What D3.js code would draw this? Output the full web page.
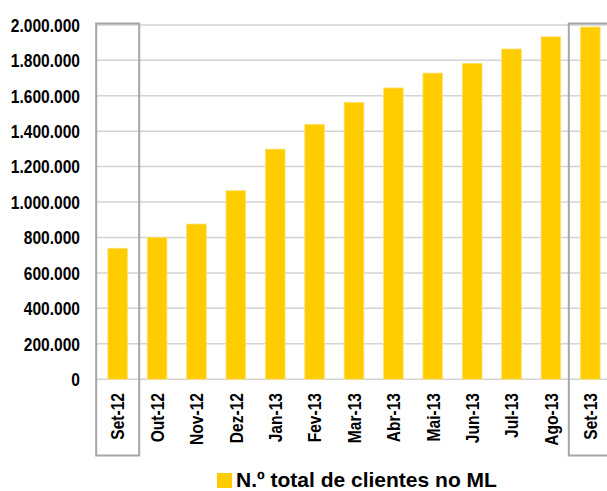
<!DOCTYPE html>
<html>
<head>
<meta charset="utf-8">
<script src="https://cdn.jsdelivr.net/npm/d3@7"></script>
<style>
  body { margin: 0; background: #fff; }
  svg { display: block; font-family: "Liberation Sans", Arial, sans-serif; }
</style>
</head>
<body>
<div id="grafico"></div>
<script>
// dados
const meses = ["Set-12", "Out-12", "Nov-12", "Dez-12", "Jan-13", "Fev-13", "Mar-13",
               "Abr-13", "Mai-13", "Jun-13", "Jul-13", "Ago-13", "Set-13"];
const clientes = [739000, 801000, 876000, 1064000, 1299000, 1439000, 1563000,
                  1644000, 1728000, 1783000, 1864000, 1933000, 1988000];
const ticksY = [0, 200000, 400000, 600000, 800000, 1000000, 1200000, 1400000,
                1600000, 1800000, 2000000];
const destaques = ["Set-12", "Set-13"];
const legenda = "N.º total de clientes no ML";

const largura = 607;
const altura = 491;
const margem = { top: 25, right: -3, bottom: 112, left: 98 };
const estreito = 0.82; // letra tipo "narrow"

const dados = meses.map((m, i) => ({ mes: m, total: clientes[i] }));

const svg = d3.select("#grafico").append("svg")
    .attr("width", largura)
    .attr("height", altura);

// escalas
const x = d3.scaleBand()
    .domain(meses)
    .range([margem.left, largura - margem.right])
    .paddingInner(0.5)
    .paddingOuter(0.25);

const y = d3.scaleLinear()
    .domain([0, 2000000])
    .range([altura - margem.bottom + 0.2, margem.top - 0.1]);

const fmt = v => d3.format(",")(v).replace(/,/g, ".");

// grelha
svg.append("g")
    .selectAll("line")
    .data(ticksY)
    .join("line")
    .attr("x1", 97)
    .attr("x2", largura)
    .attr("y1", d => y(d))
    .attr("y2", d => y(d))
    .attr("stroke", "#d3d3d3")
    .attr("stroke-width", 1.5);

// eixo Y (só os textos)
svg.append("g")
    .selectAll("text")
    .data(ticksY)
    .join("text")
    .attr("transform", d => `translate(80,${y(d)}) scale(${estreito},1)`)
    .attr("dy", "0.36em")
    .attr("text-anchor", "end")
    .style("font-size", "19px")
    .style("font-weight", "bold")
    .attr("fill", "#000")
    .text(d => fmt(d));

// barras
svg.append("g")
    .selectAll("rect")
    .data(dados)
    .join("rect")
    .attr("x", d => x(d.mes))
    .attr("y", d => y(d.total))
    .attr("width", x.bandwidth())
    .attr("height", d => y(0) - y(d.total))
    .attr("fill", "#ffcc00")
    .attr("stroke", "#ffe27a")
    .attr("stroke-width", 0.8);

// textos do eixo X
svg.append("g")
    .selectAll("text")
    .data(meses)
    .join("text")
    .attr("transform", d => `translate(${x(d) + x.bandwidth() / 2 + 6.8},393) rotate(-90) scale(${estreito},1)`)
    .attr("text-anchor", "end")
    .style("font-size", "19px")
    .style("font-weight", "bold")
    .attr("fill", "#000")
    .text(d => d);

// caixas de destaque
svg.append("g")
    .selectAll("rect")
    .data(destaques)
    .join("rect")
    .attr("x", d => x(d) + x.bandwidth() / 2 - 21.5)
    .attr("y", 23.5)
    .attr("width", 43)
    .attr("height", 432)
    .attr("fill", "none")
    .attr("stroke", "#a6a6a6")
    .attr("stroke-width", 2);

// legenda
const leg = svg.append("g").attr("transform", "translate(217,473)");
leg.append("rect")
    .attr("width", 15)
    .attr("height", 15)
    .attr("fill", "#ffcc00");
leg.append("text")
    .attr("x", 19)
    .attr("y", 14)
    .style("font-size", "21px")
    .style("font-weight", "bold")
    .attr("fill", "#000")
    .text(legenda);
</script>
</body>
</html>
